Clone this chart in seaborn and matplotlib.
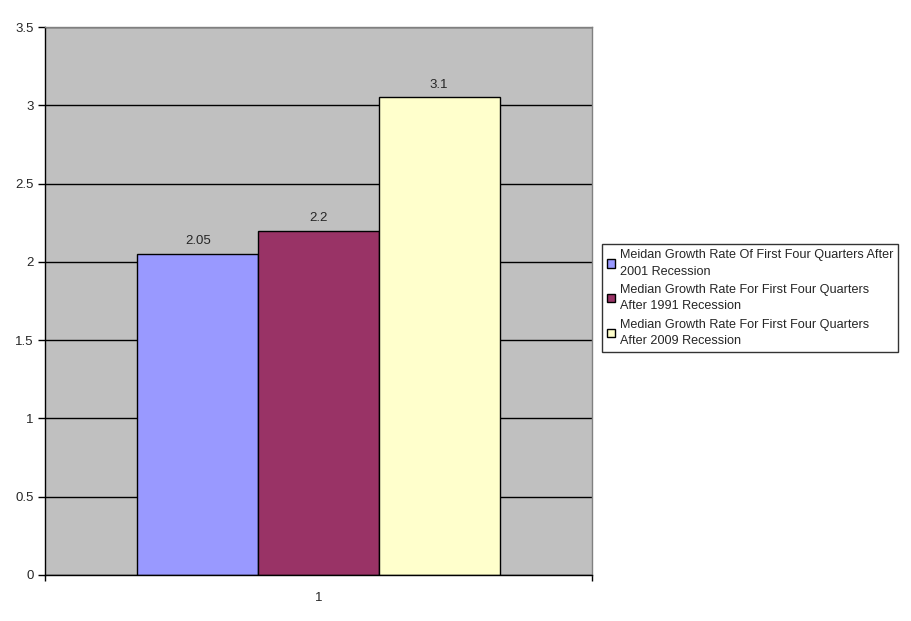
import pandas as pd
import seaborn as sns
import matplotlib.pyplot as plt

# data
category = ["1"]
series = ["Meidan Growth Rate Of First Four Quarters After 2001 Recession",
          "Median Growth Rate For First Four Quarters After 1991 Recession",
          "Median Growth Rate For First Four Quarters After 2009 Recession"]
legend_labels = ["Meidan Growth Rate Of First Four Quarters After\n2001 Recession",
                 "Median Growth Rate For First Four Quarters\nAfter 1991 Recession",
                 "Median Growth Rate For First Four Quarters\nAfter 2009 Recession"]
values = [2.05, 2.2, 3.05]
value_labels = ["2.05", "2.2", "3.1"]
colors = ["#9999FF", "#993366", "#FFFFCC"]

df = pd.DataFrame({"cat": category * len(series), "series": series, "value": values})

sns.set_style("white")
plt.rcParams['font.family'] = ['Liberation Sans', 'DejaVu Sans']

fig = plt.figure(figsize=(9.11, 6.21), dpi=100)
ax = fig.add_axes([0.0494, 0.0741, 0.6004, 0.8824])

sns.barplot(data=df, x="cat", y="value", hue="series", palette=colors,
            width=0.662, edgecolor="black", linewidth=1, saturation=1, ax=ax)

for cont, lab in zip(ax.containers, value_labels):
    ax.bar_label(cont, labels=[lab], padding=5, fontsize=9.5)

ax.set_facecolor("#C0C0C0")
ax.set_ylim(0, 3.5)
ax.set_xlim(-0.5, 0.5)
ax.set_yticks([0, 0.5, 1, 1.5, 2, 2.5, 3, 3.5])
ax.set_yticklabels(["0", "0.5", "1", "1.5", "2", "2.5", "3", "3.5"])
ax.yaxis.grid(True, color="black", linewidth=1)
ax.set_axisbelow(True)
ax.set_xlabel("")
ax.set_ylabel("")

# x ticks at the category edges, label in the middle without tick
ax.set_xticks([0])
ax.set_xticklabels(category)
ax.set_xticks([-0.5, 0.5], minor=True)
ax.tick_params(axis="x", which="major", length=0, pad=12, labelsize=9.5)
ax.tick_params(axis="x", which="minor", length=4, width=1, color="black", direction="out", bottom=True)
ax.tick_params(axis="y", length=5, width=1, color="black", direction="out", left=True, labelsize=9.5, pad=3)

for s in ["left", "bottom"]:
    ax.spines[s].set_color("black")
    ax.spines[s].set_linewidth(1)
for s in ["top", "right"]:
    ax.spines[s].set_color("#808080")
    ax.spines[s].set_linewidth(1)

handles, _ = ax.get_legend_handles_labels()
ax.get_legend().remove()
leg = fig.legend(handles, legend_labels, loc="upper left", bbox_to_anchor=(0.661, 0.607),
                 fontsize=9.1, frameon=True, fancybox=False, edgecolor="black",
                 handlelength=0.65, handleheight=0.65, handletextpad=0.35,
                 borderpad=0.4, labelspacing=0.5, borderaxespad=0)
leg.get_frame().set_linewidth(1)
for t in leg.get_texts():
    t.set_linespacing(1.5)

fig.savefig("out.png", dpi=100)
